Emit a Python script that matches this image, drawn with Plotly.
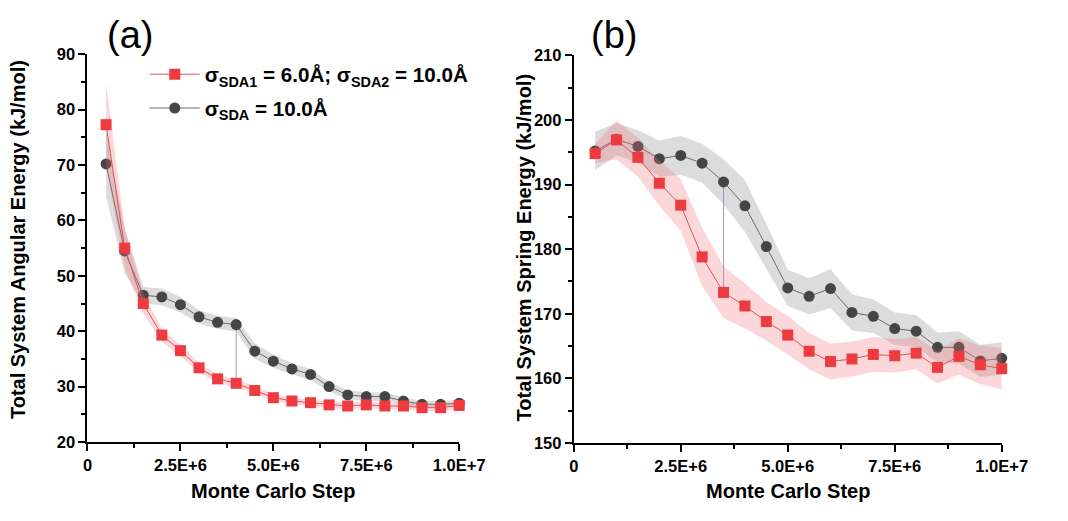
import plotly.graph_objects as go

# ---------------- data ----------------
steps = [5e5 * (i + 1) for i in range(20)]

# panel (a) Total System Angular Energy (kJ/mol)
ang_two = [77.3, 55.0, 45.0, 39.3, 36.5, 33.4, 31.4, 30.6, 29.3, 28.0,
           27.4, 27.1, 26.7, 26.5, 26.7, 26.5, 26.5, 26.2, 26.2, 26.6]
ang_two_err = [7.5, 3.5, 1.8, 1.2, 1.0, 0.8, 0.8, 0.7, 0.7, 0.6,
               0.6, 0.6, 0.6, 0.6, 0.6, 0.6, 0.6, 0.6, 0.6, 0.6]
ang_one = [70.2, 54.5, 46.5, 46.2, 44.8, 42.6, 41.6, 41.2, 36.4, 34.6,
           33.2, 32.2, 30.0, 28.5, 28.2, 28.2, 27.4, 26.8, 26.8, 27.0]
ang_one_err = [6.0, 4.0, 1.5, 1.5, 1.4, 1.2, 1.2, 1.2, 1.4, 1.2,
               1.0, 1.0, 0.9, 0.8, 0.8, 0.8, 0.7, 0.6, 0.6, 0.6]

# panel (b) Total System Spring Energy (kJ/mol)
spr_two = [194.8, 196.9, 194.2, 190.2, 186.8, 178.8, 173.3, 171.2, 168.8, 166.7,
           164.2, 162.6, 163.0, 163.7, 163.5, 163.9, 161.7, 163.4, 162.1, 161.5]
spr_two_err = [1.5, 3.0, 3.0, 3.5, 4.0, 4.5, 4.0, 3.5, 3.0, 3.0,
               2.8, 2.8, 2.7, 2.7, 2.6, 2.5, 2.5, 2.8, 3.0, 3.2]
spr_one = [195.2, 197.0, 195.9, 194.0, 194.5, 193.3, 190.4, 186.7, 180.4, 174.0,
           172.7, 173.9, 170.2, 169.6, 167.7, 167.3, 164.8, 164.8, 162.7, 163.1]
spr_one_err = [3.0, 2.5, 2.5, 2.8, 3.0, 3.0, 3.5, 4.0, 3.5, 2.8,
               2.8, 3.0, 2.8, 2.6, 2.5, 2.5, 2.3, 2.5, 2.5, 2.5]

# vertical marker indices (step where the two curves are linked)
link_a = 7   # 4.0E+6
link_b = 6   # 3.5E+6

x_tickvals = [0, 2.5e6, 5e6, 7.5e6, 1e7]
x_ticktext = ["0", "2.5E+6", "5.0E+6", "7.5E+6", "1.0E+7"]
ya_tickvals = [20, 30, 40, 50, 60, 70, 80, 90]
yb_tickvals = [150, 160, 170, 180, 190, 200, 210]

name_two = "<b>σ<sub>SDA1</sub> = 6.0Å; σ<sub>SDA2</sub> = 10.0Å</b>"
name_one = "<b>σ<sub>SDA</sub> = 10.0Å</b>"

# ---------------- page geometry ----------------
# the page body keeps its default 8px margin, so the figure is made 16px
# smaller than the window so that nothing overflows
PAGE_W, PAGE_H, BODY = 1068, 521, 8
W, H = PAGE_W - 2 * BODY, PAGE_H - 2 * BODY


def px(x):
    return (x - BODY) / W


def py(y):
    return 1 - (y - BODY) / H


# ---------------- styles ----------------
RED = "#ee3b3f"
RED_LINE = "#d9565a"
RED_BAND = "rgba(240,110,120,0.28)"
DARK = "#454545"
DARK_LINE = "#6a6a6a"
GRAY_BAND = "rgba(140,140,140,0.30)"
FONT = "Liberation Sans, Arial, sans-serif"

fig = go.Figure()


def band(x, y, e, color, xa, ya):
    up = [v + d for v, d in zip(y, e)]
    lo = [v - d for v, d in zip(y, e)]
    return go.Scatter(x=list(x) + list(x)[::-1], y=up + lo[::-1], fill="toself",
                      fillcolor=color, line=dict(width=0), mode="lines",
                      hoverinfo="skip", showlegend=False, xaxis=xa, yaxis=ya)


def series(x, y, name, color, lcolor, symbol, xa, ya, show, group):
    return go.Scatter(x=x, y=y, mode="lines+markers", name=name,
                      legendgroup=group,
                      line=dict(color=lcolor, width=1),
                      marker=dict(symbol=symbol, size=11, color=color,
                                  line=dict(width=0)),
                      cliponaxis=False, showlegend=show, xaxis=xa, yaxis=ya)


for xa, ya, two, two_e, one, one_e, show in [
        ("x", "y", ang_two, ang_two_err, ang_one, ang_one_err, True),
        ("x2", "y2", spr_two, spr_two_err, spr_one, spr_one_err, False)]:
    fig.add_trace(band(steps, one, one_e, GRAY_BAND, xa, ya))
    fig.add_trace(series(steps, one, name_one, DARK, DARK_LINE, "circle", xa, ya, False, "one"))
    fig.add_trace(band(steps, two, two_e, RED_BAND, xa, ya))
    fig.add_trace(series(steps, two, name_two, RED, RED_LINE, "square", xa, ya, show, "two"))

# legend entry for the single-SDA series (placed after red one in legend order)
fig.add_trace(go.Scatter(x=[None], y=[None], mode="lines+markers", name=name_one,
                         legendgroup="one",
                         line=dict(color=DARK_LINE, width=1),
                         marker=dict(symbol="circle", size=11, color=DARK),
                         showlegend=True, xaxis="x", yaxis="y"))

# linking vertical lines
fig.add_shape(type="line", xref="x", yref="y",
              x0=steps[link_a], x1=steps[link_a],
              y0=ang_two[link_a], y1=ang_one[link_a],
              line=dict(color="#8fa0c0", width=1), layer="below")
fig.add_shape(type="line", xref="x2", yref="y2",
              x0=steps[link_b], x1=steps[link_b],
              y0=spr_two[link_b], y1=spr_one[link_b],
              line=dict(color="#8fa0c0", width=1), layer="below")

axis_common = dict(showline=True, linecolor="black", linewidth=2, ticks="outside",
                   ticklen=7, tickwidth=2, tickcolor="black", showgrid=False,
                   zeroline=False, mirror=False,
                   tickfont=dict(family=FONT, size=16.5, color="black", weight="bold"))
minor_x = dict(ticks="outside", ticklen=4, tickwidth=2, tickcolor="black",
               dtick=1.25e6, tick0=0)

fig.update_layout(
    width=W, height=H,
    margin=dict(l=0, r=0, t=0, b=0),
    paper_bgcolor="white", plot_bgcolor="white",
    font=dict(family=FONT, color="black"),
    xaxis=dict(domain=[px(93), px(476)], anchor="y", range=[0, 1e7],
               tickvals=x_tickvals, ticktext=x_ticktext, minor=minor_x,
               **axis_common),
    yaxis=dict(domain=[py(457), py(55)], anchor="x", range=[20, 90],
               tickvals=ya_tickvals,
               minor=dict(ticks="outside", ticklen=4, tickwidth=2, tickcolor="black",
                          dtick=5, tick0=20),
               **axis_common),
    xaxis2=dict(domain=[px(594), px(1035)], anchor="y2", range=[0, 1e7],
                tickvals=x_tickvals, ticktext=x_ticktext, minor=minor_x,
                **axis_common),
    yaxis2=dict(domain=[py(458), py(56)], anchor="x2", range=[150, 210],
                tickvals=yb_tickvals,
                minor=dict(ticks="outside", ticklen=4, tickwidth=2, tickcolor="black",
                           dtick=5, tick0=150),
                **axis_common),
    legend=dict(x=px(152), y=py(55), xanchor="left", yanchor="top",
                bgcolor="rgba(0,0,0,0)", borderwidth=0,
                font=dict(family=FONT, size=20.6, color="black"),
                itemwidth=50, tracegroupgap=4),
    showlegend=True,
)

ann_font = dict(family=FONT, size=20, color="black", weight="bold")
annotations = [
    dict(text="(a)", x=137, y=35, font=dict(family=FONT, size=38, color="black")),
    dict(text="(b)", x=636, y=35, font=dict(family=FONT, size=38, color="black")),
    dict(text="Monte Carlo Step", x=284, y=508, font=ann_font),
    dict(text="Monte Carlo Step", x=815, y=508, font=ann_font),
    dict(text="Total System Angular Energy (kJ/mol)", x=22, y=247, font=ann_font,
         textangle=-90),
    dict(text="Total System Spring Energy (kJ/mol)", x=543, y=256, font=ann_font,
         textangle=-90),
]
for a in annotations:
    fig.add_annotation(text=a["text"], xref="paper", yref="paper",
                       x=px(a["x"]), y=py(a["y"]),
                       xanchor="center", yanchor="middle", showarrow=False,
                       font=a["font"], textangle=a.get("textangle", 0))

fig.write_html("out.html", config={"displayModeBar": False})
